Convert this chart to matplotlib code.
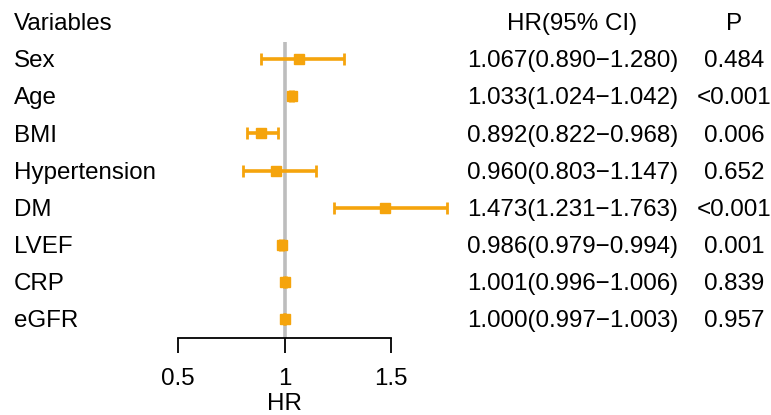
import matplotlib.pyplot as plt
import numpy as np

plt.rcParams['font.family'] = ['Liberation Sans', 'DejaVu Sans']

variables = ['Sex', 'Age', 'BMI', 'Hypertension', 'DM', 'LVEF', 'CRP', 'eGFR']
hr = [1.067, 1.033, 0.892, 0.960, 1.473, 0.986, 1.001, 1.000]
lower = [0.890, 1.024, 0.822, 0.803, 1.231, 0.979, 0.996, 0.997]
upper = [1.280, 1.042, 0.968, 1.147, 1.763, 0.994, 1.006, 1.003]
p_values = ['0.484', '<0.001', '0.006', '0.652', '<0.001', '0.001', '0.839', '0.957']
xticks = [0.5, 1, 1.5]

W, H = 771, 415
fig = plt.figure(figsize=(W / 100, H / 100), dpi=100)
ax = fig.add_axes([0, 0, 1, 1])

# pixel -> data mapping (0.5 at x=178, 1.5 at x=391; rows every 37px from y=22)
x0, xs = 178, 213.0
y0, ys = 22, 37.125
def px(x):
    return 0.5 + (x - x0) / xs
def py(y):
    return (y - y0) / ys

ax.set_xlim(px(0), px(W))
ax.set_ylim(py(H), py(0))

n = len(variables)
rows = np.arange(1, n + 1)
fs = 17.4
orange = '#F5A40C'
dy = 0.06  # small downward nudge for text

# reference line at HR = 1
ax.plot([1, 1], [0.55, n + 0.5], color='#BDBDBD', lw=2.6, zorder=1, solid_capstyle='butt')

hr_arr = np.array(hr)
err = [hr_arr - np.array(lower), np.array(upper) - hr_arr]
ax.errorbar(hr_arr, rows, xerr=err, fmt='s', color=orange, ms=6.5,
            capsize=4, capthick=2, elinewidth=2.6, zorder=3)

# bottom axis
for s in ['top', 'left', 'right']:
    ax.spines[s].set_visible(False)
ax.spines['bottom'].set_position(('data', n + 0.5))
ax.spines['bottom'].set_bounds(xticks[0], xticks[-1])
ax.spines['bottom'].set_linewidth(1.3)
ax.set_xticks(xticks)
ax.set_xticklabels(['0.5', '1', '1.5'], fontsize=fs)
ax.tick_params(axis='x', direction='out', length=10.5, width=1.3, pad=11.5)
ax.set_yticks([])
ax.text(1, py(403.5), 'HR', ha='center', va='center', fontsize=fs)

# table text
x_var, x_ci, x_p = px(14), px(572.5), px(734)
ax.text(x_var, dy, 'Variables', ha='left', va='center', fontsize=fs)
ax.text(x_ci, dy, 'HR(95% CI)', ha='center', va='center', fontsize=fs)
ax.text(x_p, dy, 'P', ha='center', va='center', fontsize=fs)
for i, r in enumerate(rows):
    ax.text(x_var, r + dy, variables[i], ha='left', va='center', fontsize=fs)
    ci = '{:.3f}({:.3f}\u2212{:.3f})'.format(hr[i], lower[i], upper[i])
    ax.text(x_ci, r + dy, ci, ha='center', va='center', fontsize=fs)
    ax.text(x_p, r + dy, p_values[i], ha='center', va='center', fontsize=fs)

fig.savefig('out.png', dpi=100)
